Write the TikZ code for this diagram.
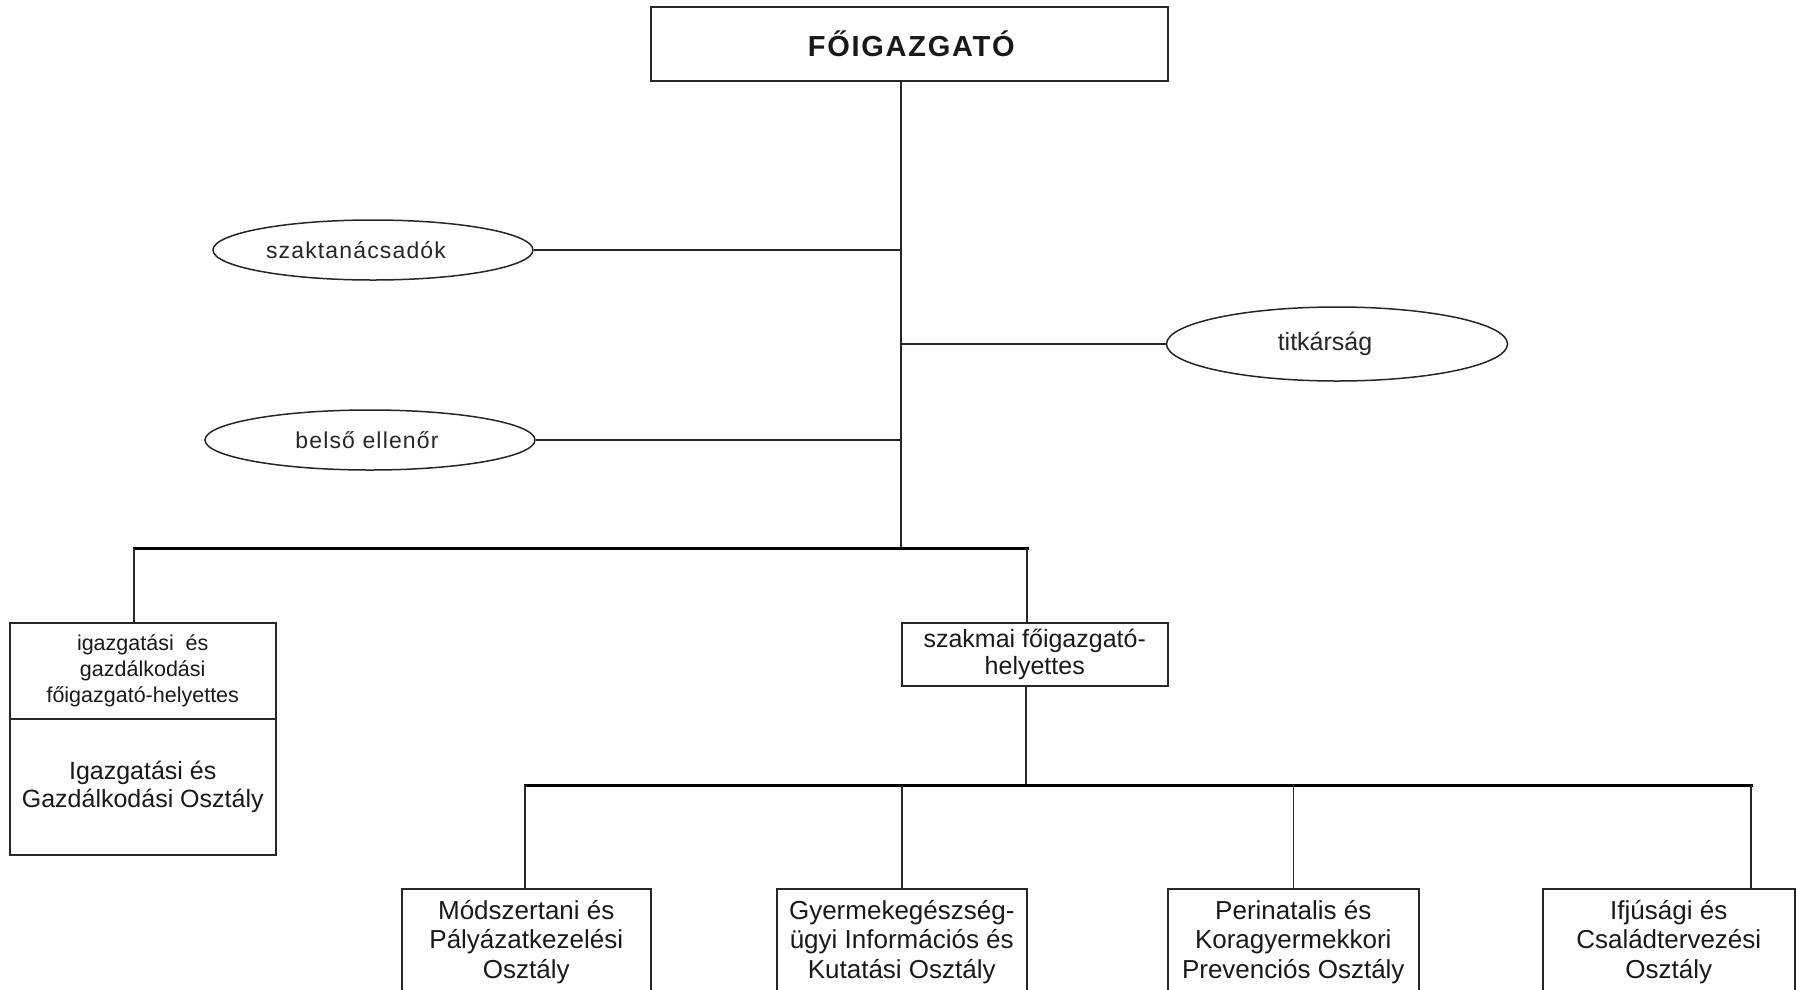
\documentclass[tikz,border=0pt]{standalone}
\usepackage{fontspec}
\setmainfont{Liberation Sans}
\usetikzlibrary{shapes.geometric}
\begin{document}
\begin{tikzpicture}[x=1pt,y=-1pt,
  box/.style={draw=black!85, line width=1.5pt, inner sep=0pt, align=center, anchor=north west, text=black!90},
  oval/.style={draw=black!85, ellipse, line width=1.5pt, inner sep=0pt, text=black!85,
    font=\fontsize{23}{28}\selectfont\addfontfeature{LetterSpace=5}},
  conn/.style={draw=black!85, line width=1.5pt},
  busline/.style={draw=black, line width=3pt, line cap=rect},
]
\clip (0,0) rectangle (1797,989);

% top
\node[box, minimum width=517pt, minimum height=74pt,
  font=\fontsize{29}{32}\selectfont\bfseries\addfontfeature{LetterSpace=6}] (top) at (650,6) {FŐIGAZGATÓ\hspace*{-4pt}};

% side ellipses
\node[oval, minimum width=320pt, minimum height=60pt] (szak) at (373,250) {szaktanácsadók\hspace*{34pt}};
\node[oval, minimum width=330pt, minimum height=60pt] (bels) at (370,440) {belső ellenőr\hspace*{6pt}};
\node[oval, minimum width=341pt, minimum height=74pt, font=\fontsize{25}{28}\selectfont] (titk) at (1337,344) {titkárság\hspace*{24pt}};

% trunk
\coordinate (b1C) at (901,548);
\coordinate (b1L) at (134,548);
\coordinate (b1R) at (1027,548);
\draw[conn] (top.south -| b1C) -- (b1C);
\draw[conn] (szak.east) -- (szak.east -| b1C);
\draw[conn] (bels.east) -- (bels.east -| b1C);
\draw[conn] (titk.west) -- (titk.west -| b1C);
\draw[busline] (b1L) -- (b1R);

% left deputy box
\node[box, minimum width=266pt, minimum height=96pt,
  font=\fontsize{21.5}{26}\selectfont] (igh) at (9,622) {igazgatási~ és\\gazdálkodási\\főigazgató-helyettes};
\node[box, minimum width=266pt, minimum height=136pt,
  font=\fontsize{25}{28}\selectfont] (igo) at (9,718) {Igazgatási és\\Gazdálkodási Osztály};
\draw[conn] (b1L) -- (b1L |- igh.north);

% szakmai deputy
\node[box, minimum width=266pt, minimum height=63pt,
  font=\fontsize{25}{27.5}\selectfont] (szm) at (901,622) {szakmai főigazgató-\\helyettes};
\draw[conn] (b1R) -- (b1R |- szm.north);

% second bus
\coordinate (b2C) at (1026,785);
\coordinate (b2L) at (525,785);
\coordinate (b2R) at (1751,785);
\draw[conn] (szm.south -| b2C) -- (b2C);
\draw[busline] (b2L) -- (b2R);

% bottom boxes
\tikzset{dept/.style={box, minimum height=106pt, font=\fontsize{26}{29.5}\selectfont}}
\node[dept, minimum width=249pt] (m1) at (401,888) {Módszertani és\\Pályázatkezelési\\Osztály};
\node[dept, minimum width=250pt] (m2) at (776,888) {Gyermekegészség-\\ügyi Információs és\\Kutatási Osztály};
\node[dept, minimum width=251pt] (m3) at (1167,888) {Perinatalis és\\Koragyermekkori\\Prevenciós Osztály};
\node[dept, minimum width=252pt] (m4) at (1542,888) {Ifjúsági és\\Családtervezési\\Osztály};
\draw[conn] (b2L) -- (b2L |- m1.north);
\draw[conn] (m2.north |- b2L) -- (m2.north);
\draw[conn] (m3.north |- b2L) -- (m3.north);
\draw[conn] (b2R) -- (b2R |- m4.north);
\end{tikzpicture}
\end{document}
